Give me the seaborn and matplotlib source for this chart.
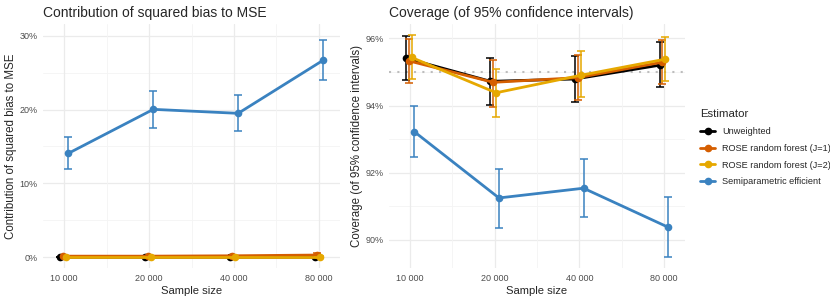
import numpy as np
import pandas as pd
import matplotlib
matplotlib.use("Agg")
import matplotlib.pyplot as plt
from matplotlib.lines import Line2D
import seaborn as sns

# data
sample_sizes = ["10 000", "20 000", "40 000", "80 000"]
estimators = ["Unweighted", "ROSE random forest (J=1)",
              "ROSE random forest (J=2)", "Semiparametric efficient"]
colors = ["#000000", "#D55E00", "#E6A800", "#3A82C0"]

# contribution of squared bias to MSE (%)
bias_est = {
    "Unweighted": [0.0, 0.0, 0.0, 0.02],
    "ROSE random forest (J=1)": [0.15, 0.15, 0.2, 0.3],
    "ROSE random forest (J=2)": [0.05, 0.05, 0.05, 0.05],
    "Semiparametric efficient": [14.08, 20.03, 19.49, 26.67],
}
bias_lo = {
    "Unweighted": [0.0, 0.0, 0.0, 0.0],
    "ROSE random forest (J=1)": [0.05, 0.05, 0.1, 0.1],
    "ROSE random forest (J=2)": [0.0, 0.0, 0.0, 0.0],
    "Semiparametric efficient": [11.95, 17.54, 17.06, 23.96],
}
bias_hi = {
    "Unweighted": [0.05, 0.05, 0.05, 0.1],
    "ROSE random forest (J=1)": [0.3, 0.3, 0.35, 0.6],
    "ROSE random forest (J=2)": [0.1, 0.1, 0.1, 0.15],
    "Semiparametric efficient": [16.3, 22.47, 21.93, 29.42],
}

# coverage (%)
cov_est = {
    "Unweighted": [95.41, 94.72, 94.79, 95.20],
    "ROSE random forest (J=1)": [95.33, 94.69, 94.83, 95.29],
    "ROSE random forest (J=2)": [95.43, 94.38, 94.90, 95.38],
    "Semiparametric efficient": [93.22, 91.25, 91.54, 90.38],
}
cov_lo = {
    "Unweighted": [94.75, 94.01, 94.10, 94.54],
    "ROSE random forest (J=1)": [94.66, 93.96, 94.16, 94.63],
    "ROSE random forest (J=2)": [94.79, 93.67, 94.24, 94.74],
    "Semiparametric efficient": [92.47, 90.35, 90.67, 89.49],
}
cov_hi = {
    "Unweighted": [96.07, 95.40, 95.47, 95.88],
    "ROSE random forest (J=1)": [95.97, 95.35, 95.50, 95.95],
    "ROSE random forest (J=2)": [96.09, 95.10, 95.61, 96.03],
    "Semiparametric efficient": [94.00, 92.11, 92.40, 91.29],
}

dodge = [-0.05, -0.017, 0.017, 0.05]


def build(est, lo, hi):
    rows = []
    for k, name in enumerate(estimators):
        for i, s in enumerate(sample_sizes):
            rows.append({"Estimator": name, "x": i + dodge[k],
                         "y": est[name][i], "lo": lo[name][i], "hi": hi[name][i]})
    return pd.DataFrame(rows)


bias_df = build(bias_est, bias_lo, bias_hi)
cov_df = build(cov_est, cov_lo, cov_hi)

sns.set_theme(style="white")
plt.rcParams["font.family"] = ["Liberation Sans", "DejaVu Sans"]
palette = dict(zip(estimators, colors))

fig = plt.figure(figsize=(8.3, 3.02), dpi=100)
W, H = 830, 302
top, bot = 24.2, 268.2
ax1 = fig.add_axes([43 / W, 1 - bot / H, (340 - 43) / W, (bot - top) / H])
ax2 = fig.add_axes([389 / W, 1 - bot / H, (685 - 389) / W, (bot - top) / H])


def draw(ax, df, ylim, ticks, minor):
    ax.set_facecolor("white")
    for t in ticks:
        ax.axhline(t, color="#EBEBEB", lw=0.9, zorder=0)
    for t in minor:
        ax.axhline(t, color="#F4F4F4", lw=0.6, zorder=0)
    for t in range(4):
        ax.axvline(t, color="#EBEBEB", lw=0.9, zorder=0)
    for t in [0.5, 1.5, 2.5]:
        ax.axvline(t, color="#F4F4F4", lw=0.6, zorder=0)
    for name in estimators:
        d = df[df["Estimator"] == name]
        ax.errorbar(d["x"], d["y"], yerr=[d["y"] - d["lo"], d["hi"] - d["y"]],
                    fmt="none", ecolor=palette[name], elinewidth=1.1,
                    capsize=3, capthick=1.1, zorder=2)
    sns.lineplot(data=df, x="x", y="y", hue="Estimator", hue_order=estimators,
                 palette=palette, marker="o", markersize=5.5, markeredgewidth=0,
                 linewidth=2, legend=False, ax=ax, zorder=3)
    ax.set_xlim(-0.25, 3.25)
    ax.set_ylim(*ylim)
    ax.set_xticks(range(4))
    ax.set_xticklabels(sample_sizes)
    ax.set_yticks(ticks)
    ax.set_yticklabels([f"{int(t)}%" for t in ticks])
    ax.tick_params(axis="both", labelsize=6.5, colors="#4D4D4D", length=0, pad=4)
    for sp in ax.spines.values():
        sp.set_visible(False)
    ax.set_xlabel("Sample size", fontsize=8.1, labelpad=2)


draw(ax1, bias_df, (-1.48, 31.56), [0, 10, 20, 30], [5, 15, 25])
ax1.set_ylabel("Contribution of squared bias to MSE", fontsize=8.3, labelpad=2)
ax1.set_title("Contribution of squared bias to MSE", fontsize=10, loc="left",
              pad=5, x=0)

ax2.axhline(95, color="#BDBDBD", lw=1.5, ls=(0, (1, 3)), zorder=1)
draw(ax2, cov_df, (89.16, 96.42), [90, 92, 94, 96], [91, 93, 95])
ax2.set_ylabel("Coverage (of 95% confidence intervals)", fontsize=8.3, labelpad=1.5)
ax2.set_title("Coverage (of 95% confidence intervals)", fontsize=10, loc="left",
              pad=5, x=0)

handles = [Line2D([0], [0], color=c, lw=2, marker="o", markersize=4.5) for c in colors]
fig.legend(handles, estimators, title="Estimator", loc="upper left",
           bbox_to_anchor=(692 / W, 1 - 101 / H), frameon=False, fontsize=6.6,
           title_fontsize=8.2, handlelength=1.6, handletextpad=0.8,
           labelspacing=0.85, alignment="left")

fig.savefig("out.png", dpi=100, facecolor="white")
